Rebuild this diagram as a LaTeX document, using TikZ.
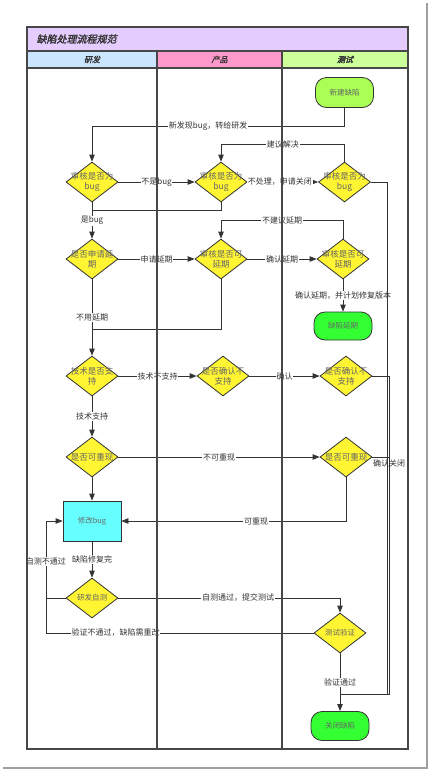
\documentclass[tikz,border=0pt]{standalone}
\usepackage{fontspec}
\setmainfont{Noto Sans CJK SC}
\newfontfamily\titlefont[FakeBold=2,FakeSlant=0.25]{Noto Sans CJK SC}
\usetikzlibrary{shapes.geometric,arrows.meta}
\definecolor{lineC}{HTML}{333333}
\definecolor{titleC}{HTML}{E5CCFF}
\definecolor{rdC}{HTML}{CCE5FF}
\definecolor{cpC}{HTML}{FF99CC}
\definecolor{csC}{HTML}{CCFF99}
\definecolor{newC}{HTML}{AAFF55}
\definecolor{grnC}{HTML}{33FF33}
\definecolor{cyanC}{HTML}{66FFFF}
\definecolor{yelC}{HTML}{FFF533}
\definecolor{ntextC}{HTML}{666666}
\definecolor{ltextC}{HTML}{333333}
\begin{document}
\begin{tikzpicture}[x=1pt,y=-1pt,
  line/.style={draw=lineC, line width=0.8pt},
  arr/.style={line, -{Triangle[length=7pt,width=5.5pt]}},
  frame/.style={draw=lineC!90, line width=1.1pt},
  dia/.style={diamond, draw=lineC, line width=0.8pt, fill=yelC, minimum width=52pt, minimum height=40pt, inner sep=0pt},
  dtext/.style={align=center, text=ntextC, font=\fontsize{8.5}{10}\selectfont, inner sep=0pt},
  dtextsm/.style={align=center, text=ntextC, font=\fontsize{7.5}{9}\selectfont, inner sep=0pt},
  stadium/.style={draw=lineC, line width=0.8pt, rounded corners=11pt, minimum width=58pt, inner sep=0pt, text=ntextC, font=\fontsize{7.5}{9}\selectfont},
  boxnode/.style={draw=lineC, line width=0.8pt, fill=cyanC, minimum width=58pt, minimum height=40pt, inner sep=0pt, text=ntextC, font=\fontsize{7.5}{9}\selectfont},
  elabel/.style={fill=white, inner sep=0.8pt, text=ltextC, font=\fontsize{8}{9}\selectfont},
  hdr/.style={text=ltextC, font=\titlefont\fontsize{8}{9}\selectfont},
]
\useasboundingbox (0,0) rectangle (430,772);
% page shadow
\draw[gray!75, line width=1.6pt] (3,768) -- (427,768) -- (427,3);
% frame, title, headers
\fill[titleC] (27,27) rectangle (408,51);
\fill[rdC] (27,51) rectangle (157,68);
\fill[cpC] (157,51) rectangle (282,68);
\fill[csC] (282,51) rectangle (408,68);
\draw[frame] (27,51) -- (408,51);
\draw[frame] (27,68) -- (408,68);
\node[anchor=west, text=ltextC, font=\titlefont\fontsize{10}{12}\selectfont] (title) at (33,39) {缺陷处理流程规范};
\node[hdr] (h1) at (92,59.5) {研发};
\node[hdr] (h2) at (219.5,59.5) {产品};
\node[hdr] (h3) at (345,59.5) {测试};

% nodes
\node[stadium, fill=newC, minimum height=30pt] (new) at (344.5,92.5) {新建缺陷};
\node[dia, label={[dtext]center:{审核是否为\\bug}}] (d1) at (92,182) {};
\node[dia, label={[dtext]center:{审核是否为\\bug}}] (d2) at (221,182) {};
\node[dia, label={[dtext]center:{审核是否为\\bug}}] (d3) at (344.5,182) {};
\node[dia, label={[dtext]center:{是否申请延\\期}}] (d4) at (92,259) {};
\node[dia, label={[dtext]center:{审核是否可\\延期}}] (d5) at (221,259) {};
\node[dia, label={[dtext]center:{审核是否可\\延期}}] (d6) at (343,259) {};
\node[stadium, fill=grnC, minimum height=28pt] (delay) at (343,326) {缺陷延期};
\node[dia, label={[dtext]center:{技术是否支\\持}}] (d7) at (92,376) {};
\node[dia, label={[dtext]center:{是否确认不\\支持}}] (d8) at (223,376) {};
\node[dia, label={[dtext]center:{是否确认不\\支持}}] (d9) at (346,376) {};
\node[dia, label={[dtext]center:{是否可重现}}] (d10) at (92,457) {};
\node[dia, label={[dtext]center:{是否可重现}}] (d11) at (346,457) {};
\node[boxnode] (fix) at (92,521) {修改bug};
\node[dia, label={[dtextsm]center:{研发自测}}] (d12) at (92,598) {};
\node[dia, label={[dtextsm]center:{测试验证}}] (d13) at (340,633) {};
\node[stadium, fill=grnC, minimum height=29pt] (close) at (340,726) {关闭缺陷};

% bend coordinates
\coordinate (b1) at (344.5,126);
\coordinate (b2) at (344.5,144);
\coordinate (j1) at (92,210);
\coordinate (b4) at (343,220);
\coordinate (j2) at (92,329);
\coordinate (r1) at (387,694);
\coordinate (r2) at (389,694);
\coordinate (j3) at (340,694);
\coordinate (l1) at (46,598);
\coordinate (l2) at (46,633);

% connectors
\draw[arr] (new) -- (b1) -| node[elabel, pos=0.27] {新发现bug，转给研发} (d1);
\draw[arr] (d1) -- node[elabel] {不是bug} (d2);
\draw[arr] (d2) -- node[elabel, xshift=-3pt] {不处理，申请关闭} (d3);
\draw[arr] (d3) -- (b2) -| node[elabel, pos=0.25] {建议解决} (d2);
\draw[line] (d2) |- (j1);
\draw[arr] (d1) -- node[elabel] {是bug} (d4);
\draw[arr] (d4) -- node[elabel] {申请延期} (d5);
\draw[arr] (d5) -- node[elabel] {确认延期} (d6);
\draw[arr] (d6) -- (b4) -| node[elabel, pos=0.25] {不建议延期} (d5);
\draw[arr] (d6) -- node[elabel] {确认延期，并计划修复版本} (delay);
\draw[line] (d5) |- (j2);
\draw[arr] (d4) -- node[elabel, pos=0.5] {不用延期} (d7);
\draw[arr] (d7) -- node[elabel] {技术不支持} (d8);
\draw[arr] (d8) -- node[elabel] {确认} (d9);
\draw[arr] (d7) -- node[elabel] {技术支持} (d10);
\draw[arr] (d10) -- node[elabel] {不可重现} (d11);
\draw[line] (d11) -| node[elabel, pos=0.513] {确认关闭} (r2) -- (j3);
\draw[line] (d9) -| (r2) -- (j3);
\draw[line] (d3) -| (r1) -- (j3);
\draw[arr] (d11) |- node[elabel, pos=0.70] {可重现} (fix);
\draw[arr] (d10) -- (fix);
\draw[arr] (fix) -- node[elabel] {缺陷修复完} (d12);
\draw[arr] (d12) -- (l1) |- node[elabel, pos=0.24] {自测不通过} (fix);
\draw[arr] (d12) -| node[elabel, pos=0.27] {自测通过，提交测试} (d13);
\draw[line] (d13) -- node[elabel, pos=0.74] {验证不通过，缺陷需重改} (l2) -- (l1);
\draw[arr] (d13) -- node[elabel] {验证通过} (close);

% lanes and frame on top
\draw[frame] (157,51) -- (157,749);
\draw[frame] (282,51) -- (282,749);
\draw[frame] (27,27) rectangle (408,749);
\end{tikzpicture}
\end{document}
